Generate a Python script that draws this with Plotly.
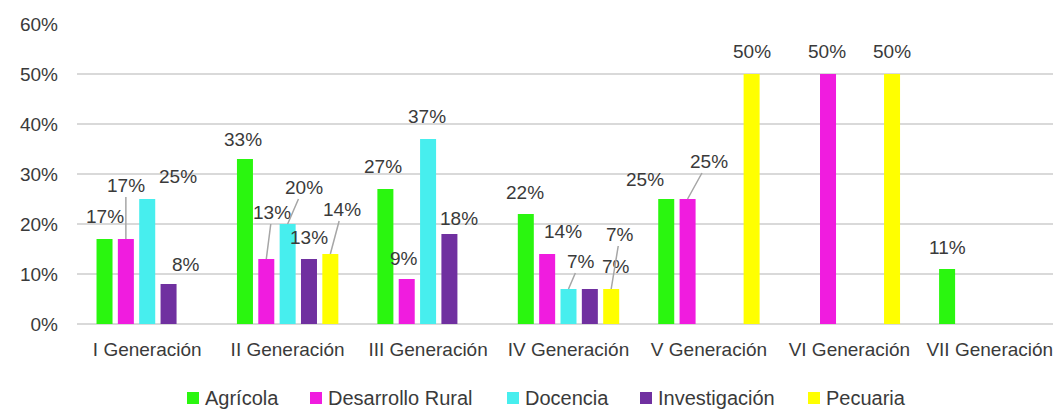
import plotly.graph_objects as go

categories = ['I Generación', 'II Generación', 'III Generación', 'IV Generación',
              'V Generación', 'VI Generación', 'VII Generación']

series_names = ['Agrícola', 'Desarrollo Rural', 'Docencia', 'Investigación', 'Pecuaria']
agricola = [17, 33, 27, 22, 25, None, 11]
desarrollo_rural = [17, 13, 9, 14, 25, 50, None]
docencia = [25, 20, 37, 7, None, None, None]
investigacion = [8, 13, 18, 7, None, None, None]
pecuaria = [None, 14, None, 7, 50, 50, None]

colors = ['#2AF60F', '#F01CDF', '#47EEEE', '#7030A0', '#FFFF00']
series = [agricola, desarrollo_rural, docencia, investigacion, pecuaria]

# label offsets in pixels (dx, dy, leader line) keyed by (series, category)
label_offsets = {
    (0, 0): (0, -23, False), (1, 0): (0, -54, True), (2, 0): (31, -23, False), (3, 0): (17, -20, False),
    (0, 1): (-2, -20, False), (1, 1): (6, -47, True), (2, 1): (16, -37, True), (3, 1): (0, -22, False),
    (4, 1): (12, -45, True),
    (0, 2): (-2, -23, False), (1, 2): (-3, -21, False), (2, 2): (-1, -23, False), (3, 2): (10, -16, False),
    (0, 3): (-1, -22, False), (1, 3): (16, -23, False), (2, 3): (12, -28, True), (3, 3): (26, -23, False),
    (4, 3): (9, -55, True),
    (0, 4): (-21, -20, False), (1, 4): (21, -38, True), (4, 4): (0, -23, False),
    (1, 5): (-1, -23, False), (4, 5): (0, -23, False),
    (0, 6): (0, -22, False),
}

# legend layout: left edge of each swatch, in plot-area pixels
legend_x = [110, 233, 430, 563, 731]
legend_y = -74  # pixels below the x axis line

bargap = 0.24
n = len(series)
slot = (1 - bargap) / n
text_color = '#3A3A3A'
font_family = 'Liberation Sans, Arial, sans-serif'
plot_w, plot_h = 983, 300

fig = go.Figure()
for name, vals, col in zip(series_names, series, colors):
    fig.add_trace(go.Bar(x=categories, y=vals, name=name, marker_color=col,
                         marker_line_width=0, hoverinfo='skip', showlegend=False))

annotations = []
for i, vals in enumerate(series):
    for j, v in enumerate(vals):
        if v is None:
            continue
        dx, dy, leader = label_offsets.get((i, j), (0, -22, False))
        annotations.append(dict(
            x=j + (i - (n - 1) / 2) * slot, y=v, xref='x', yref='y',
            text=f'{v}%', showarrow=True, arrowhead=0, arrowwidth=1.5,
            arrowcolor='#A6A6A6' if leader else 'rgba(0,0,0,0)',
            ax=dx, ay=dy, standoff=0,
            font=dict(size=19, color=text_color, family=font_family),
        ))

shapes = []
sw = 12
for name, col, lx in zip(series_names, colors, legend_x):
    shapes.append(dict(type='rect', xref='paper', yref='paper', line_width=0, fillcolor=col,
                       x0=lx / plot_w, x1=(lx + sw) / plot_w,
                       y0=(legend_y - sw / 2) / plot_h, y1=(legend_y + sw / 2) / plot_h))
    annotations.append(dict(x=(lx + sw + 4) / plot_w, y=legend_y / plot_h, xref='paper', yref='paper',
                            text=name, showarrow=False, xanchor='left', yanchor='middle',
                            font=dict(size=20, color=text_color, family=font_family)))

# page body adds an 8px offset, so the figure is 8px smaller than the window
fig.update_layout(
    width=1053, height=402,
    margin=dict(l=69, r=1, t=16, b=86),
    paper_bgcolor='white', plot_bgcolor='white',
    barmode='group', bargap=bargap, bargroupgap=0.25,
    font=dict(family=font_family, color=text_color, size=18),
    annotations=annotations, shapes=shapes,
    showlegend=False,
    xaxis=dict(showgrid=False, showline=False, ticks='', tickfont=dict(size=19),
               ticklabelstandoff=12, automargin=False, ticklabeloverflow='allow'),
    yaxis=dict(range=[0, 60], dtick=10, ticksuffix='%', showgrid=True,
               gridcolor='#D9D9D9', gridwidth=1.5, zeroline=True, zerolinecolor='#D9D9D9',
               zerolinewidth=1.5, showline=False, tickfont=dict(size=19),
               ticklabelstandoff=18, automargin=False),
)

fig.write_html('out.html')
